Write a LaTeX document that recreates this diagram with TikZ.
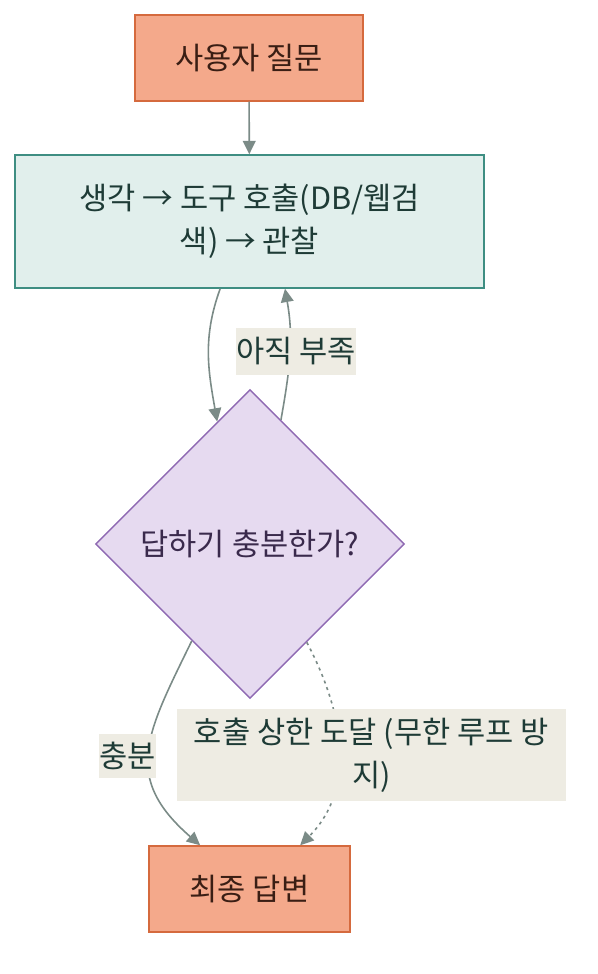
\documentclass[tikz,border=0pt]{standalone}
\usepackage{fontspec}
\setmainfont{Noto Sans CJK KR}
\usetikzlibrary{shapes.geometric,arrows.meta}
\definecolor{salmonfill}{HTML}{F4A98B}
\definecolor{salmonline}{HTML}{D56A3E}
\definecolor{salmontext}{HTML}{3A1E14}
\definecolor{tealfill}{HTML}{E1EFEC}
\definecolor{tealline}{HTML}{3E8E82}
\definecolor{tealtext}{HTML}{1E3B36}
\definecolor{lilacfill}{HTML}{E6DAF0}
\definecolor{lilacline}{HTML}{8E69B2}
\definecolor{lilactext}{HTML}{3A2A4C}
\definecolor{lblfill}{HTML}{EEECE3}
\definecolor{edgecol}{HTML}{7B8B87}

\begin{document}
\begin{tikzpicture}[x=0.75pt,y=-0.75pt,
    every node/.style={font=\fontsize{23}{32.5}\selectfont},
    endbox/.style={draw=salmonline, fill=salmonfill, text=salmontext, line width=1.1pt, inner sep=0pt},
    stepbox/.style={draw=tealline, fill=tealfill, text=tealtext, line width=1.1pt, inner sep=0pt, align=center},
    askbox/.style={diamond, aspect=1, draw=lilacline, fill=lilacfill, text=lilactext, line width=1.1pt, inner sep=0pt, minimum width=231.75pt, minimum height=231.75pt},
    lbl/.style={fill=lblfill, text=tealtext, inner sep=0pt, align=center},
    flow/.style={draw=edgecol, line width=1.2pt, -{Triangle[length=10pt,width=9.5pt]}}]
    \useasboundingbox (0,0) rectangle (598,974);
    \node [endbox, minimum width=171pt, minimum height=64.5pt] (ask) at (249.00, 58.00) {사용자 질문};
    \node [stepbox, minimum width=351.75pt, minimum height=99.75pt] (think) at (249.50, 221.50) {생각 → 도구 호출(DB/웹검\\색) → 관찰};
    \node [askbox] (enough) at (250.00, 544.00) {답하기 충분한가?};
    \node [endbox, minimum width=150.75pt, minimum height=64.5pt] (final) at (249.50, 889.00) {최종 답변};
    \draw [flow] (ask) to (think);
    \draw [flow] ([xshift=-22pt]think.south) to [out=-110, in=100] (enough.105);
    \draw [flow] (enough.76) to [out=80, in=-80] ([xshift=26.6pt]think.south);
    \draw [flow] (enough.-121) to [out=-116, in=139, looseness=1.3] ([xshift=-37pt]final.north);
    \draw [flow, dash pattern=on 2.25pt off 3pt] (enough.-60) to [out=-62, in=45] ([xshift=38pt]final.north);
    \node [lbl, minimum width=90pt, minimum height=35.25pt] (short) at (296.00, 351.50) {아직 부족};
    \node [lbl, minimum width=42.75pt, minimum height=33pt] (yes) at (127.50, 756.00) {충분};
    \node [lbl, minimum width=291.75pt, minimum height=69pt] (limit) at (371.50, 755.00) {호출 상한 도달 (무한 루프 방\\지)};
\end{tikzpicture}
\end{document}
